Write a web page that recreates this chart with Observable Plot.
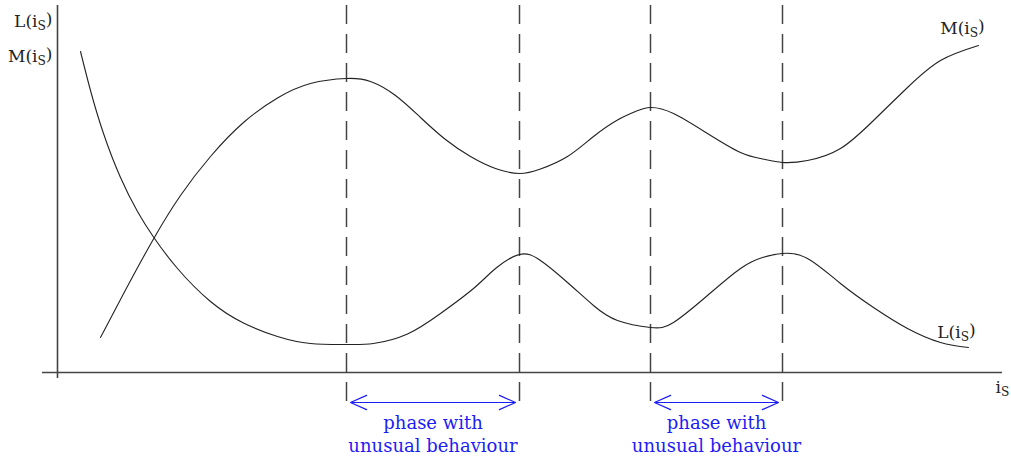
<!DOCTYPE html>
<html>
<head>
<meta charset="utf-8">
<script src="https://cdn.jsdelivr.net/npm/d3@7"></script>
<script src="https://cdn.jsdelivr.net/npm/@observablehq/plot@0.6"></script>
<style>
  html, body { margin: 0; padding: 0; background: #fff; }
  #chart svg { display: block; }
</style>
</head>
<body>
<div id="chart"></div>
<script>
// ---- data (arbitrary units: i_S along x, inductance along y) ----
const mX = [43, 68, 96, 123, 153, 186, 220, 253, 289, 313, 338, 363, 388, 413, 438, 462, 483, 510, 536, 560, 578, 593, 616, 650, 683, 705, 725, 750, 783, 816, 850, 883, 921];
const mY = [35, 82.5, 133.5, 177, 216, 250, 274.5, 289, 294, 291, 277, 255, 233, 216, 204, 199, 203.5, 216, 236, 252.5, 261, 265, 259, 239, 220, 213.5, 210, 212, 224, 252, 285, 312, 327];
const lX = [23, 33, 46, 63, 80, 96, 120, 153, 186, 220, 253, 289, 316, 350, 383, 416, 438, 462, 483, 510, 536, 560, 593, 616, 650, 683, 705, 725, 750, 783, 816, 850, 883, 911];
const lY = [321, 282, 239, 195, 161, 135.5, 104, 71, 49.5, 36, 29, 28, 29, 38.5, 59, 84, 104, 118, 112, 90, 67, 52, 45, 50, 77, 104, 115, 119, 114, 89, 65, 44, 30, 25];
const phaseBounds = [289, 462, 593, 725];
const phaseStarts = [289, 593];
const phaseEnds = [462, 725];
const phaseLine1 = ["phase with", "phase with"];
const phaseLine2 = ["unusual behaviour", "unusual behaviour"];
const leftLabels = ["L(i_S)", "M(i_S)"];
const leftLabelY = [346, 311];
const curveLabels = ["M(i_S)", "L(i_S)", "i_S"];
const curveLabelX = [905, 899, 945];
const curveLabelY = [339, 35, -20];

// ---- tables built from the arrays ----
const M = mX.map((x, i) => ({x, y: mY[i]}));
const L = lX.map((x, i) => ({x, y: lY[i]}));
const phases = phaseStarts.map((s, i) => ({s, e: phaseEnds[i], mid: (s + phaseEnds[i]) / 2, t1: phaseLine1[i], t2: phaseLine2[i]}));
const left = leftLabels.map((t, i) => ({t, y: leftLabelY[i]}));
const right = curveLabels.map((t, i) => ({t, x: curveLabelX[i], y: curveLabelY[i]}));

const blue = "#1c1cf5";
const ink = "#222";
const font = "DejaVu Serif, serif";
const inset = 4;

const chart = Plot.plot({
  width: 1011,
  height: 459,
  margin: 0,
  style: {background: "#fff", fontFamily: font},
  x: {domain: [-57, 954], axis: null},
  y: {domain: [-87, 372], axis: null},
  marks: [
    // axes
    Plot.ruleY([0], {x1: -15, x2: 945, stroke: "#444", strokeWidth: 1.6}),
    Plot.ruleX([0], {y1: 367, y2: -6, stroke: "#444", strokeWidth: 1.6}),
    // dashed phase boundaries
    Plot.ruleX(phaseBounds, {y1: 367, y2: -36, stroke: "#444", strokeWidth: 1.5, strokeDasharray: "19,10"}),
    // curves
    Plot.line(M, {x: "x", y: "y", curve: "natural", stroke: ink, strokeWidth: 1.1}),
    Plot.line(L, {x: "x", y: "y", curve: "natural", stroke: ink, strokeWidth: 1.1}),
    // double-headed arrows (two halves from the middle)
    Plot.arrow(phases, {x1: "mid", x2: d => d.s + inset, y1: -30, y2: -30, stroke: blue, strokeWidth: 1.2, headLength: 22, headAngle: 48, inset: 0}),
    Plot.arrow(phases, {x1: "mid", x2: d => d.e - inset, y1: -30, y2: -30, stroke: blue, strokeWidth: 1.2, headLength: 22, headAngle: 48, inset: 0}),
    // phase text
    Plot.text(phases, {x: "mid", y: -56, text: "t1", fill: blue, fontSize: 18, lineAnchor: "bottom", fontFamily: font}),
    Plot.text(phases, {x: "mid", y: -79, text: "t2", fill: blue, fontSize: 18, lineAnchor: "bottom", fontFamily: font}),
    // y-axis labels
    Plot.text(left, {x: -5, y: "y", text: "t", textAnchor: "end", fill: ink, fontSize: 17, lineAnchor: "bottom", fontFamily: font}),
    // curve / x-axis labels
    Plot.text(right, {x: "x", y: "y", text: "t", textAnchor: "middle", fill: ink, fontSize: 17, lineAnchor: "bottom", fontFamily: font})
  ]
});

// render "_S" as a real subscript
d3.select(chart).selectAll("text").each(function() {
  const s = this.textContent;
  const m = s.match(/^(.*)_(\w)(.*)$/);
  if (!m) return;
  const t = d3.select(this);
  t.text(null);
  t.append("tspan").text(m[1]);
  t.append("tspan").attr("dy", "0.3em").attr("font-size", "0.72em").text(m[2]);
  if (m[3]) t.append("tspan").attr("dy", "-0.3em").text(m[3]);
});

document.getElementById("chart").appendChild(chart);
</script>
</body>
</html>
